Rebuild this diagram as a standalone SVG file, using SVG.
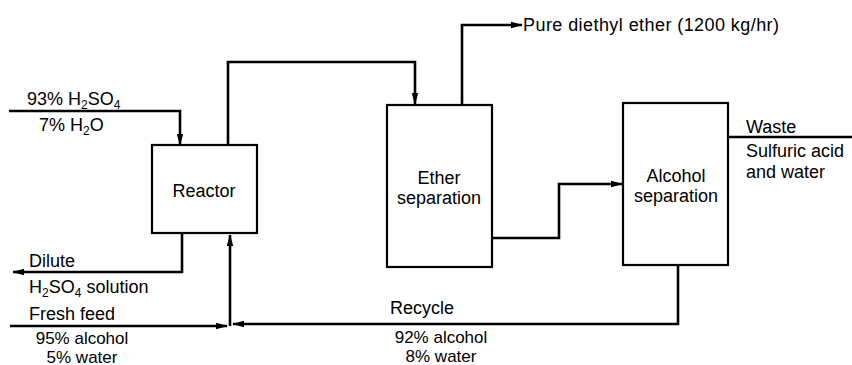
<svg xmlns="http://www.w3.org/2000/svg" width="852" height="365" viewBox="0 0 852 365">
<defs>
<marker id="arr" markerWidth="12" markerHeight="8" refX="11" refY="4" orient="auto" markerUnits="userSpaceOnUse">
<path d="M0,0.8 L12,4 L0,7.2 Z" fill="#000"/>
</marker>
<style>
.box{fill:#fff;stroke:#000;stroke-width:2.2}
.ln{fill:none;stroke:#000;stroke-width:2.6;stroke-linejoin:miter}
.ar{marker-end:url(#arr)}
text{font-family:"Liberation Sans",Arial,sans-serif;font-size:18px;fill:#000}
.c{text-anchor:middle}
.s{font-size:17px}
.sub{font-size:12px}
</style>
</defs>
<rect width="852" height="365" fill="#fff"/>
<g id="connectors">
<path class="ln ar" d="M9,111 H180 V145"/>
<path class="ln ar" d="M228,145 V62 H415 V104"/>
<path class="ln ar" d="M462,105 V25 H522"/>
<path class="ln ar" d="M492,238 H559 V184 H622"/>
<path class="ln" d="M728,137 H852"/>
<path class="ln ar" d="M678,265 V324 H233"/>
<path class="ln ar" d="M10,326 H227"/>
<path class="ln ar" d="M230,326 V235"/>
<path class="ln ar" d="M182,233 V272 H13"/>
</g>
<g id="reactor">
<rect class="box" x="152" y="145" width="105" height="88"/>
<text class="c" x="204" y="197">Reactor</text>
</g>
<g id="ether-separation">
<rect class="box" x="387" y="105" width="105" height="162"/>
<text class="c" x="439" y="184">Ether</text>
<text class="c" x="439" y="204">separation</text>
</g>
<g id="alcohol-separation">
<rect class="box" x="623" y="103" width="105" height="162"/>
<text class="c" x="676" y="182">Alcohol</text>
<text class="c" x="676" y="202">separation</text>
</g>
<g id="labels">
<text x="27" y="105">93% H<tspan class="sub" dy="4">2</tspan><tspan dy="-4">SO</tspan><tspan class="sub" dy="4">4</tspan></text>
<text x="39" y="131">7% H<tspan class="sub" dy="4">2</tspan><tspan dy="-4">O</tspan></text>
<text x="523" y="31" textLength="256" lengthAdjust="spacing">Pure diethyl ether (1200 kg/hr)</text>
<text x="746" y="133">Waste</text>
<text x="746" y="157">Sulfuric acid</text>
<text x="746" y="178">and water</text>
<text x="29" y="267">Dilute</text>
<text x="29" y="293">H<tspan class="sub" dy="4">2</tspan><tspan dy="-4">SO</tspan><tspan class="sub" dy="4">4</tspan><tspan dy="-4"> solution</tspan></text>
<text x="29" y="320">Fresh feed</text>
<text class="c s" x="82" y="344">95% alcohol</text>
<text class="c s" x="82" y="363">5% water</text>
<text x="390" y="314">Recycle</text>
<text class="c s" x="441" y="343">92% alcohol</text>
<text class="c s" x="441" y="362">8% water</text>
</g>
</svg>
